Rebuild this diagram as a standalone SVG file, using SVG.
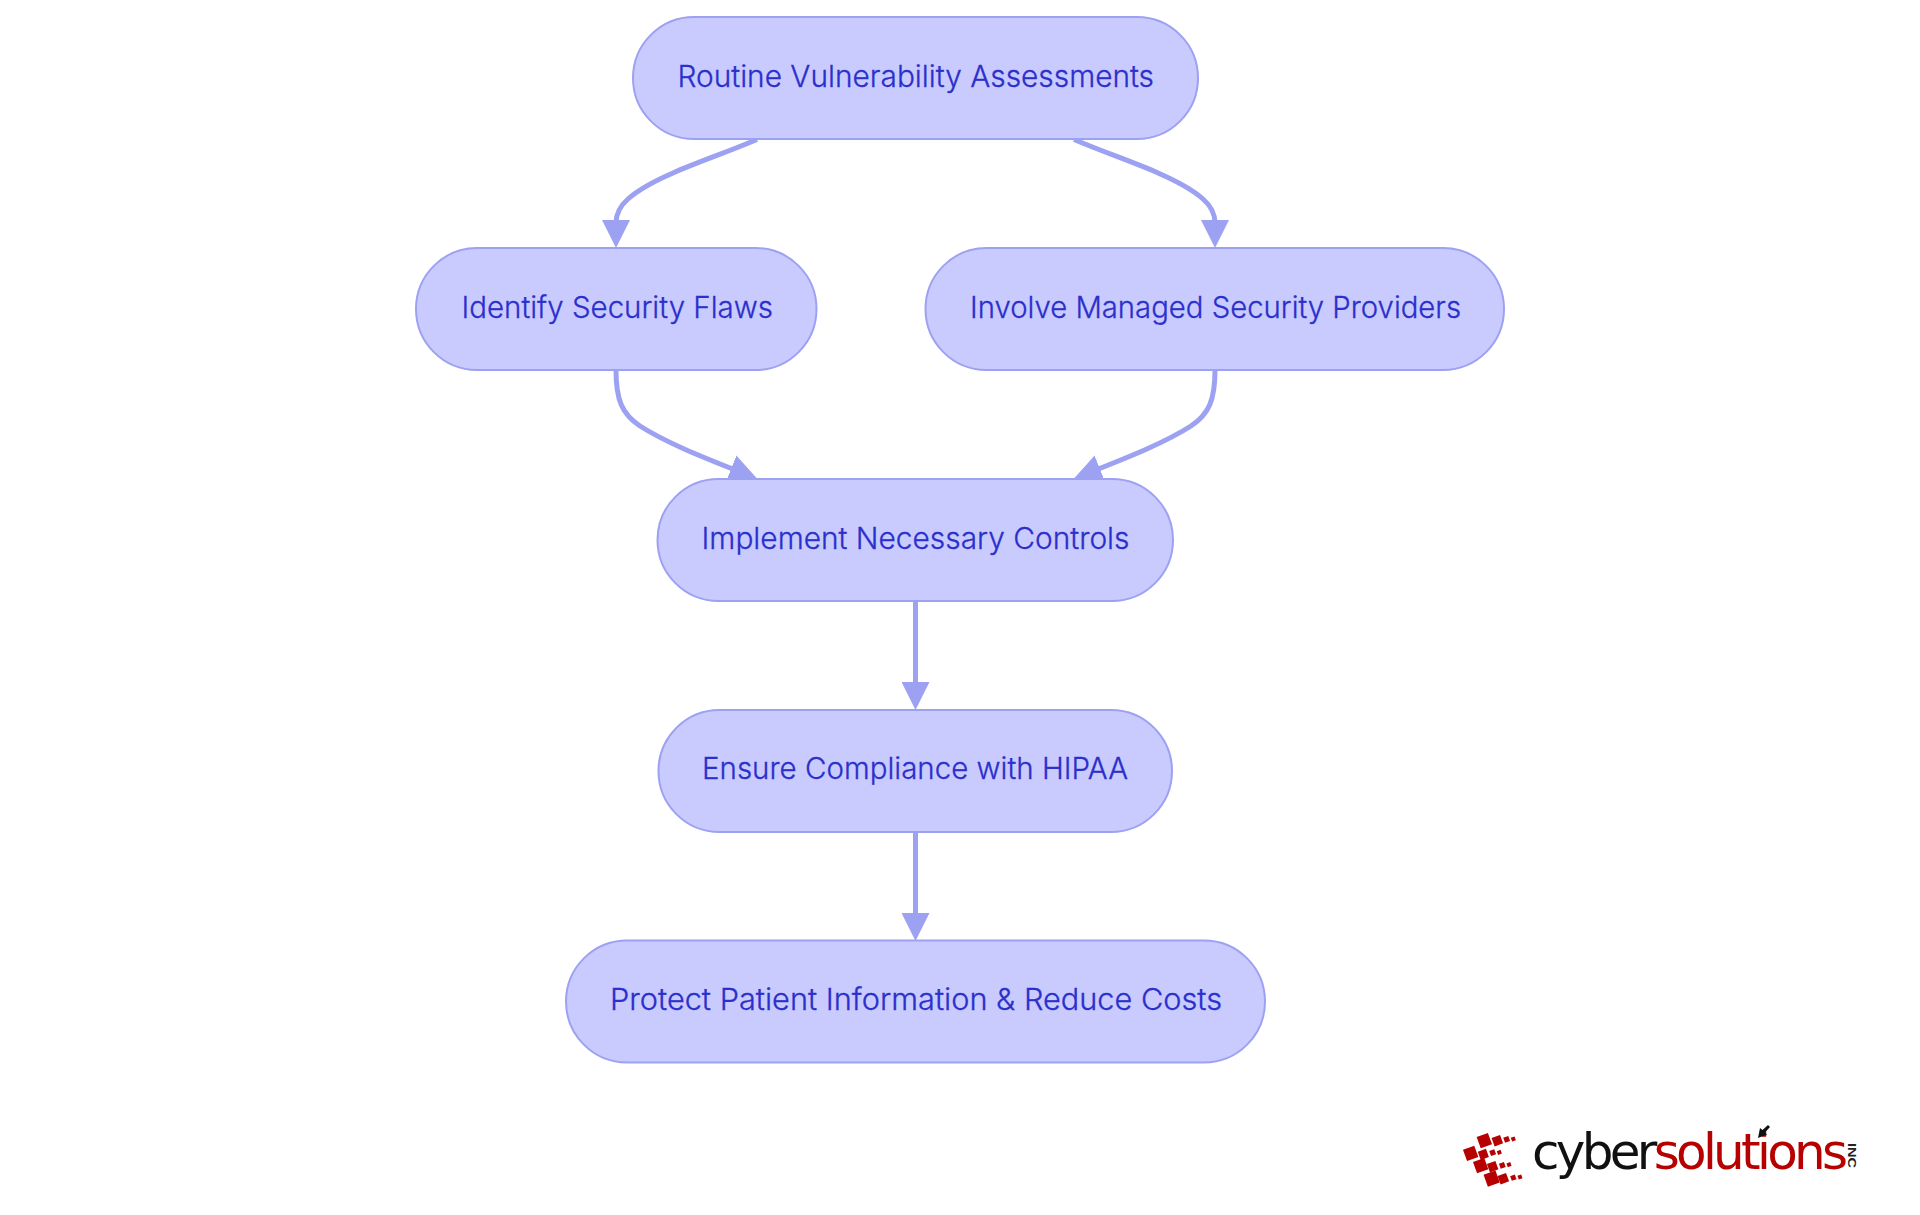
<svg xmlns="http://www.w3.org/2000/svg" width="1920" height="1215" viewBox="0 0 1920 1215">
<style>
.node{fill:#C9CBFE;stroke:#9DA1F2;stroke-width:2}
.label{font-family:Inter,"Liberation Sans",sans-serif;font-size:30px;font-weight:300;fill:#2B2FCC;stroke:#2B2FCC;stroke-width:0.3}
.edge{fill:none;stroke:#9DA1F2;stroke-width:5;marker-end:url(#arrow)}
.sq{fill:#B70000}
.logo{font-family:"DejaVu Sans",sans-serif;font-size:50px;letter-spacing:-3.7px}
</style>
<defs>
<marker id="arrow" markerUnits="userSpaceOnUse" viewBox="0 0 28 28" markerWidth="28" markerHeight="28" refX="3" refY="14" orient="auto">
<path d="M0,0 L28,14 L0,28 z" fill="#9DA1F2"/>
</marker>
</defs>
<rect width="1920" height="1215" fill="#FFFFFF"/>
<g id="connectors">
<path class="edge" d="M757,139.500 C725,153 695,163 673,173 C650,183 637,191 628,199 C620,206 616,214 616,223"/>
<path class="edge" d="M1074,139.500 C1106,153 1136,163 1158,173 C1181,183 1194,191 1203,199 C1211,206 1215,214 1215,223"/>
<path class="edge" d="M616,370 C616,400 622,414 640,426 C665,442 700,456 734,469.500"/>
<path class="edge" d="M1215,370 C1215,400 1209,414 1191,426 C1166,442 1131,456 1097,469.500"/>
<path class="edge" d="M915.500,600 L915.500,685"/>
<path class="edge" d="M915.500,832 L915.500,916"/>
</g>
<g id="node-routine">
<rect class="node" x="633" y="17" width="565" height="122" rx="61"/>
<text class="label" x="677.500" y="87" textLength="476.500" lengthAdjust="spacingAndGlyphs">Routine Vulnerability Assessments</text>
</g>
<g id="node-identify">
<rect class="node" x="416" y="248" width="400.500" height="122" rx="61"/>
<text class="label" x="461.500" y="318" textLength="311.500" lengthAdjust="spacingAndGlyphs">Identify Security Flaws</text>
</g>
<g id="node-involve">
<rect class="node" x="925.500" y="248" width="578.500" height="122" rx="61"/>
<text class="label" x="970" y="318" textLength="491" lengthAdjust="spacingAndGlyphs">Involve Managed Security Providers</text>
</g>
<g id="node-implement">
<rect class="node" x="657.500" y="479" width="515.500" height="122" rx="61"/>
<text class="label" x="701.500" y="549" textLength="428" lengthAdjust="spacingAndGlyphs">Implement Necessary Controls</text>
</g>
<g id="node-ensure">
<rect class="node" x="658.500" y="710" width="513.500" height="122" rx="61"/>
<text class="label" x="702" y="779" textLength="426" lengthAdjust="spacingAndGlyphs">Ensure Compliance with HIPAA</text>
</g>
<g id="node-protect">
<rect class="node" x="566" y="940.500" width="699" height="122" rx="61"/>
<text class="label" x="610" y="1010" textLength="612" lengthAdjust="spacingAndGlyphs">Protect Patient Information &amp; Reduce Costs</text>
</g>
<g id="logo">
<g transform="translate(1440,1100) scale(0.3333)">
<rect class="sq" x="-18" y="-18" width="36" height="36" transform="translate(133,122) rotate(-20)"/>
<rect class="sq" x="-13.500" y="-13.500" width="27" height="27" transform="translate(172,122) rotate(-20)"/>
<rect class="sq" x="-8" y="-8" width="16" height="16" transform="translate(200,118) rotate(-20)"/>
<rect class="sq" x="-6" y="-6" width="12" height="12" transform="translate(220,117) rotate(-20)"/>
<rect class="sq" x="-18" y="-18" width="36" height="36" transform="translate(92,160) rotate(-20)"/>
<rect class="sq" x="-13" y="-13" width="26" height="26" transform="translate(130,163) rotate(-20)"/>
<rect class="sq" x="-8" y="-8" width="16" height="16" transform="translate(158,158) rotate(-20)"/>
<rect class="sq" x="-6" y="-6" width="12" height="12" transform="translate(178,157) rotate(-20)"/>
<rect class="sq" x="-18" y="-18" width="36" height="36" transform="translate(122,197) rotate(-20)"/>
<rect class="sq" x="-13.500" y="-13.500" width="27" height="27" transform="translate(158,200) rotate(-20)"/>
<rect class="sq" x="-8" y="-8" width="16" height="16" transform="translate(187,196) rotate(-20)"/>
<rect class="sq" x="-6" y="-6" width="12" height="12" transform="translate(207,194) rotate(-20)"/>
<rect class="sq" x="-19" y="-19" width="38" height="38" transform="translate(155,236) rotate(-20)"/>
<rect class="sq" x="-13.500" y="-13.500" width="27" height="27" transform="translate(190,236) rotate(-20)"/>
<rect class="sq" x="-7.500" y="-7.500" width="15" height="15" transform="translate(220,233) rotate(-20)"/>
<rect class="sq" x="-6" y="-6" width="12" height="12" transform="translate(240,231) rotate(-20)"/>
</g>
<text class="logo" x="1532" y="1169"><tspan fill="#111111">cyber</tspan><tspan fill="#B70000">solutions</tspan></text>
<text x="0" y="0" transform="translate(1848,1143) rotate(90)" font-family="Liberation Sans,sans-serif" font-size="11" font-weight="700" fill="#222222" textLength="25" lengthAdjust="spacingAndGlyphs">INC</text>
<path d="M1758,1138 L1760,1128 L1762.500,1130 L1768,1125 L1770,1127 L1765,1132.500 L1767,1134.500 Z" fill="#111111"/>
</g>
</svg>
